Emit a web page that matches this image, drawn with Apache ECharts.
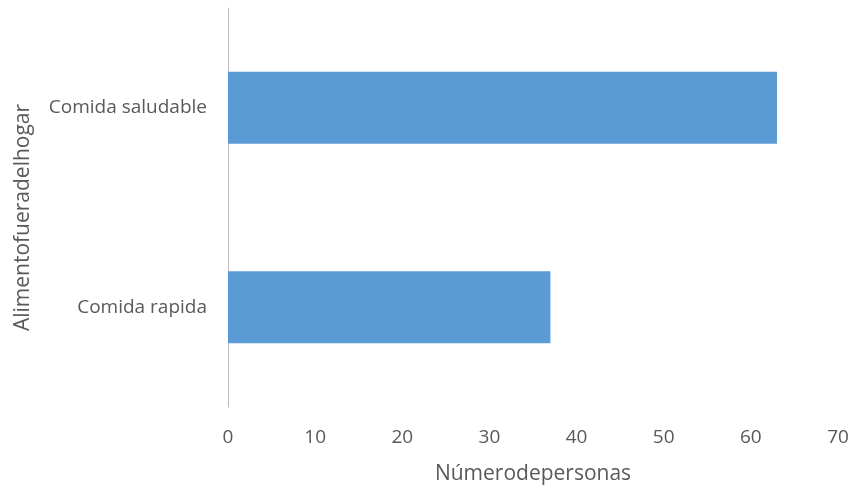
<!DOCTYPE html>
<html>
<head>
<meta charset="utf-8">
<script src="https://cdn.jsdelivr.net/npm/echarts@6/dist/echarts.min.js"></script>
<style>
  html, body { margin: 0; padding: 0; background: #fff; }
  #chart { width: 855px; height: 490px; }
</style>
</head>
<body>
<div id="chart"></div>
<script>
// Categories listed bottom-to-top along the vertical axis
const categories = ['Comida rapida', 'Comida saludable'];
const personas = [37, 63];
const xTicks = { min: 0, max: 70, interval: 10 };

const textColor = '#595959';
const fontFamily = '"Open Sans", "Noto Sans", sans-serif';

const chart = echarts.init(document.getElementById('chart'), null, { renderer: 'canvas' });
chart.setOption({
  animation: false,
  backgroundColor: '#ffffff',
  grid: { left: 228, right: 17, top: 8, bottom: 82, containLabel: false },
  xAxis: {
    type: 'value',
    min: xTicks.min,
    max: xTicks.max,
    interval: xTicks.interval,
    name: 'Númerodepersonas',
    nameLocation: 'middle',
    nameGap: 57,
    nameTextStyle: { color: textColor, fontSize: 21, fontFamily: fontFamily },
    axisLine: { show: false },
    axisTick: { show: false },
    splitLine: { show: false },
    axisLabel: { color: textColor, fontSize: 19, fontFamily: fontFamily, margin: 21 }
  },
  yAxis: {
    type: 'category',
    data: categories,
    name: 'Alimentofueradelhogar',
    nameLocation: 'middle',
    nameGap: 194,
    nameRotate: 90,
    nameTextStyle: { color: textColor, fontSize: 21, fontFamily: fontFamily, padding: [0, 20, 0, 0] },
    axisLine: { show: true, lineStyle: { color: '#bfbfbf', width: 1 } },
    axisTick: { show: false },
    axisLabel: { color: textColor, fontSize: 19, fontFamily: fontFamily, margin: 21 }
  },
  series: [{
    type: 'bar',
    data: personas,
    barWidth: '36%',
    itemStyle: { color: '#5b9bd5' }
  }]
});
</script>
</body>
</html>
